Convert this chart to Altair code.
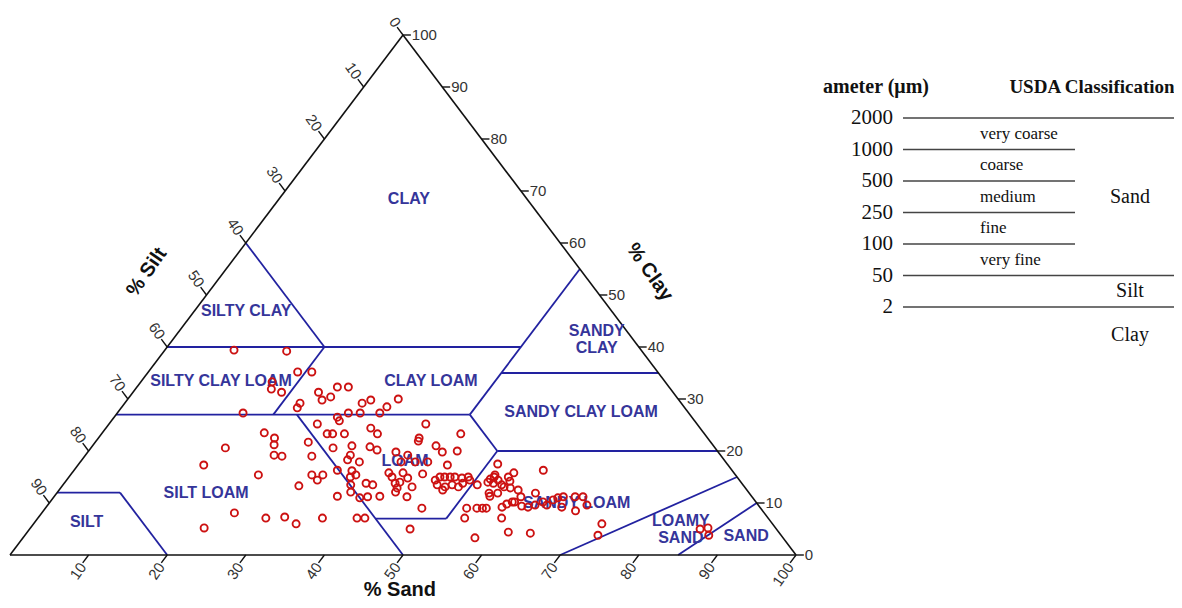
import altair as alt
import pandas as pd

# ---------------- data: soil samples (sand %, clay %) ----------------
SAND = [
    8.8, 15.6, 19.0, 20.8, 16.7, 17.3, 18.9, 25.5, 26.9, 23.6,
    24.8, 25.6, 30.2, 31.0, 34.4, 33.7, 22.3, 22.4, 16.0, 28.4,
    29.0, 29.4, 30.9, 33.4, 26.5, 40.3, 20.6, 22.4, 23.0, 24.0,
    25.1, 28.7, 29.4, 30.9, 33.7, 35.1, 40.8, 41.0, 45.7, 17.1,
    27.1, 30.8, 33.0, 35.4, 36.6, 39.2, 41.0, 43.7, 45.1, 46.9,
    16.0, 28.9, 33.7, 33.8, 35.5, 40.8, 42.6, 44.2, 47.0, 23.9,
    30.7, 32.1, 31.9, 33.5, 35.8, 36.3, 40.3, 41.1, 42.1, 43.2,
    44.7, 46.9, 47.2, 47.8, 48.5, 49.1, 50.1, 47.6, 48.8, 49.5,
    50.5, 50.7, 30.1, 36.6, 38.4, 39.4, 42.1, 44.6, 36.0, 37.3,
    39.0, 39.9, 41.4, 43.0, 44.9, 48.8, 47.9, 24.5, 29.0, 31.3,
    33.4, 36.2, 40.6, 41.6, 22.1, 48.4, 42.6, 42.8, 35.4,
    53.3, 59.7, 50.8, 51.3, 53.8, 54.1, 54.9, 54.6, 53.8, 55.9,
    56.2, 56.5, 52.7, 56.3, 55.0, 55.4, 56.1, 58.4, 60.9, 59.4,
    53.6, 54.9, 55.6, 56.1, 58.0, 58.3, 58.8, 59.1, 60.4, 61.3,
    62.0, 62.7, 63.5, 63.8, 64.2, 64.8, 65.6, 66.3, 67.3, 68.6,
    67.7, 59.0, 61.2, 64.1, 57.5, 72.3, 72.9, 54.3, 85.3, 86.2,
    87.0, 55.8, 57.2, 54.0,
]
CLAY = [
    39.4, 39.2, 35.2, 35.2, 33.3, 31.9, 31.3, 32.3, 32.3, 31.3,
    29.8, 30.4, 29.2, 29.8, 30.0, 28.5, 29.2, 28.3, 27.3, 26.5,
    25.8, 27.3, 27.3, 27.3, 25.2, 25.2, 23.5, 22.5, 21.2, 19.2,
    19.0, 23.3, 23.3, 23.3, 24.4, 23.3, 22.5, 21.9, 23.3, 20.6,
    21.7, 20.6, 21.0, 20.8, 20.2, 19.8, 19.2, 21.0, 19.8, 20.0,
    17.3, 19.0, 19.2, 18.3, 17.9, 17.9, 17.9, 17.9, 17.3, 15.4,
    15.4, 15.4, 14.4, 16.3, 15.0, 15.4, 15.8, 15.0, 15.8, 14.8,
    15.6, 14.4, 15.0, 15.0, 15.0, 15.0, 14.8, 13.5, 13.1, 13.5,
    13.1, 13.8, 13.3, 13.5, 13.8, 13.5, 13.8, 13.1, 11.3, 12.1,
    11.0, 11.2, 11.3, 12.1, 11.2, 12.5, 9.0, 8.1, 7.1, 7.3,
    6.0, 7.1, 7.1, 7.1, 5.2, 5.0, 14.0, 12.9, 16.2,
    17.5, 16.3, 15.0, 14.4, 14.6, 15.0, 14.4, 13.8, 14.0, 15.0,
    15.8, 14.2, 13.5, 13.1, 11.9, 11.3, 11.9, 12.5, 11.9, 11.2,
    9.0, 9.0, 9.0, 9.0, 9.2, 9.8, 10.2, 10.2, 9.4, 9.2,
    9.6, 10.2, 9.6, 10.6, 11.0, 11.2, 9.2, 11.2, 11.2, 9.6,
    8.5, 7.1, 4.4, 4.2, 3.3, 6.0, 3.8, 7.1, 5.0, 5.2,
    3.8, 13.5, 12.9, 15.4,
]

# USDA texture classes (label anchor in sand %, clay %)
REGION_NAMES = ["CLAY", "SILTY CLAY", "SANDY\nCLAY", "SILTY CLAY LOAM", "CLAY LOAM",
                "SANDY CLAY LOAM", "LOAM", "SILT LOAM", "SILT", "SANDY LOAM",
                "LOAMY\nSAND", "SAND"]
REGION_SAND = [16.5, 6.6, 53.1, 10.1, 36.8, 58.9, 41.2, 19.0, 6.6, 67.1, 82.1, 91.8]
REGION_CLAY = [68.5, 46.9, 43.1, 33.5, 33.5, 27.5, 18.1, 11.9, 6.3, 10.0, 6.5, 3.7]

# class boundaries: segments (sand, clay) -> (sand, clay)
B_SAND1 = [0, 0, 20, 0, 45, 45, 45, 52, 52, 43, 23, 0, 8, 70, 85]
B_CLAY1 = [60, 40, 40, 27, 27, 35, 27, 20, 20, 7, 27, 12, 12, 0, 0]
B_SAND2 = [20, 45, 20, 45, 45, 65, 52, 80, 52, 52, 50, 8, 20, 85, 90]
B_CLAY2 = [40, 40, 27, 27, 55, 35, 20, 20, 7, 7, 0, 12, 0, 15, 10]

SAND_TICKS = [10, 20, 30, 40, 50, 60, 70, 80, 90, 100]
SILT_TICKS = [0, 10, 20, 30, 40, 50, 60, 70, 80, 90]
CLAY_TICKS = [0, 10, 20, 30, 40, 50, 60, 70, 80, 90, 100]

# particle size table
DIAMETERS = ["2000", "1000", "500", "250", "100", "50", "2"]
SAND_FRACTIONS = ["very coarse", "coarse", "medium", "fine", "very fine"]
CLASSES = ["Sand", "Silt", "Clay"]


def tx(s, c):
    return s + c / 2.0


XS = alt.Scale(domain=[0, 100], range=[2, 788])
YS = alt.Scale(domain=[0, 100], range=[547, 27])
YT = alt.Scale(domain=[-1, 7], range=[78.5, 330.5])


def X(f):
    return alt.X(f, type="quantitative", scale=XS, axis=None)


def Y(f):
    return alt.Y(f, type="quantitative", scale=YS, axis=None)


def YR(f):
    return alt.Y(f, type="quantitative", scale=YT, axis=None)


SANS = "Liberation Sans"
SERIF = "Liberation Serif"
BLUE = "#2222a0"

# outline
outline = pd.DataFrame({"x1": [0, 100, 50], "y1": [0, 0, 100],
                        "x2": [100, 50, 0], "y2": [0, 100, 0]})
outline_l = alt.Chart(outline).mark_rule(color="#111111", strokeWidth=1.6).encode(
    x=X("x1"), y=Y("y1"), x2="x2", y2="y2")

# boundaries
bd = pd.DataFrame({
    "x1": [tx(s, c) for s, c in zip(B_SAND1, B_CLAY1)], "y1": B_CLAY1,
    "x2": [tx(s, c) for s, c in zip(B_SAND2, B_CLAY2)], "y2": B_CLAY2})
bound_l = alt.Chart(bd).mark_rule(color=BLUE, strokeWidth=1.8).encode(
    x=X("x1"), y=Y("y1"), x2="x2", y2="y2")

# ticks
rows = []
for s in SAND_TICKS:
    rows.append({"x1": s, "y1": 0, "x2": s - 0.75, "y2": -1.5})
for v in SILT_TICKS:
    c = 100 - v
    rows.append({"x1": c / 2, "y1": c, "x2": c / 2 - 0.75, "y2": c + 1.5})
for c in CLAY_TICKS:
    rows.append({"x1": 100 - c / 2, "y1": c, "x2": 100 - c / 2 + 1.0, "y2": c})
ticks_l = alt.Chart(pd.DataFrame(rows)).mark_rule(color="#111111", strokeWidth=1.4).encode(
    x=X("x1"), y=Y("y1"), x2="x2", y2="y2")

sand_lab = pd.DataFrame({"x": [s - 0.75 for s in SAND_TICKS], "y": [-1.5] * len(SAND_TICKS),
                         "t": [str(s) for s in SAND_TICKS]})
sand_lab_l = alt.Chart(sand_lab).mark_text(font=SANS, fontSize=15, color="#333333", angle=305,
                                           align="right", baseline="middle", dx=-1, dy=1).encode(
    x=X("x"), y=Y("y"), text="t:N")

silt_lab = pd.DataFrame({"x": [(100 - v) / 2 - 0.75 for v in SILT_TICKS],
                         "y": [100 - v + 1.5 for v in SILT_TICKS],
                         "t": [str(v) for v in SILT_TICKS]})
silt_lab_l = alt.Chart(silt_lab).mark_text(font=SANS, fontSize=15, color="#333333", angle=55,
                                           align="right", baseline="middle", dx=-1, dy=-1).encode(
    x=X("x"), y=Y("y"), text="t:N")

clay_lab = pd.DataFrame({"x": [100 - c / 2 + 1.0 for c in CLAY_TICKS], "y": CLAY_TICKS,
                         "t": [str(c) for c in CLAY_TICKS]})
clay_lab_l = alt.Chart(clay_lab).mark_text(font=SANS, fontSize=15, color="#333333",
                                           align="left", baseline="middle", dx=1).encode(
    x=X("x"), y=Y("y"), text="t:N")

# axis titles
titles = pd.DataFrame({"t": ["% Sand", "% Silt", "% Clay"],
                       "x": [49.6, 17.4, 81.4], "y": [-6.7, 54.4, 54.4],
                       "a": [0, 305, 55]})
title_l = alt.Chart(titles).mark_text(font=SANS, fontSize=20, fontWeight="bold", color="#111111",
                                      align="center", baseline="middle").encode(
    x=X("x"), y=Y("y"), text="t:N", angle=alt.Angle("a:Q", scale=None))

# region labels
reg = pd.DataFrame({"t": REGION_NAMES,
                    "x": [tx(s, c) for s, c in zip(REGION_SAND, REGION_CLAY)],
                    "y": REGION_CLAY})
reg_l = alt.Chart(reg).mark_text(font=SANS, fontSize=16, fontWeight="bold", color="#35359a",
                                 align="center", baseline="middle", lineBreak="\n",
                                 lineHeight=17).encode(
    x=X("x"), y=Y("y"), text="t:N")

# samples
pts = pd.DataFrame({"sand": SAND, "clay": CLAY})
pts["silt"] = 100 - pts["sand"] - pts["clay"]
pts["x"] = pts["sand"] + pts["clay"] / 2
pts_l = alt.Chart(pts).mark_point(shape="circle", filled=False, color="#cc1111",
                                  size=50, strokeWidth=1.9, opacity=1).encode(
    x=X("x"), y=Y("clay"))

# ---------------- table ----------------
diam = pd.DataFrame({"t": DIAMETERS, "row": list(range(len(DIAMETERS)))})
diam["long"] = diam["t"].isin(["2000", "50", "2"])
diam_txt = alt.Chart(diam).mark_text(font=SERIF, fontSize=21, color="#111111",
                                     align="right", baseline="middle").encode(
    x=alt.value(885), y=YR("row"), text="t:N")
long_rules = alt.Chart(diam).transform_filter("datum.long").mark_rule(
    color="#444444", strokeWidth=1.6).encode(
    x=alt.value(895), x2=alt.value(1169), y=YR("row"))
short_rules = alt.Chart(diam).transform_filter("!datum.long").mark_rule(
    color="#444444", strokeWidth=1.6).encode(
    x=alt.value(895), x2=alt.value(1067), y=YR("row"))

frac = pd.DataFrame({"t": SAND_FRACTIONS, "row": [i + 0.5 for i in range(len(SAND_FRACTIONS))]})
frac_txt = alt.Chart(frac).mark_text(font=SERIF, fontSize=17, color="#111111",
                                     align="left", baseline="middle").encode(
    x=alt.value(972), y=YR("row"), text="t:N")

cls = pd.DataFrame({"t": CLASSES, "row": [2.5, 5.5, 6.9]})
cls_txt = alt.Chart(cls).mark_text(font=SERIF, fontSize=20, color="#111111",
                                   align="center", baseline="middle").encode(
    x=alt.value(1122), y=YR("row"), text="t:N")

hdr = pd.DataFrame({"t": ["ameter (\u03bcm)"], "row": [-1]})
hdr_l = alt.Chart(hdr).mark_text(font=SERIF, fontSize=20, fontWeight="bold", color="#111111",
                                 align="right", baseline="middle").encode(
    x=alt.value(921), y=YR("row"), text="t:N")
hdr2 = pd.DataFrame({"t": ["USDA Classification"], "row": [-1]})
hdr2_l = alt.Chart(hdr2).mark_text(font=SERIF, fontSize=19, fontWeight="bold", color="#111111",
                                   align="center", baseline="middle").encode(
    x=alt.value(1084), y=YR("row"), text="t:N")

chart = alt.layer(
    bound_l, outline_l, ticks_l, sand_lab_l, silt_lab_l, clay_lab_l, title_l, reg_l, pts_l,
    long_rules, short_rules, diam_txt, frac_txt, cls_txt, hdr_l, hdr2_l,
).resolve_scale(y="independent").properties(
    width=1166, height=592, padding=0,
    autosize=alt.AutoSizeParams(type="none"),
).configure_view(stroke=None)

chart.save("out.html", embed_options={"renderer": "svg", "actions": False})
